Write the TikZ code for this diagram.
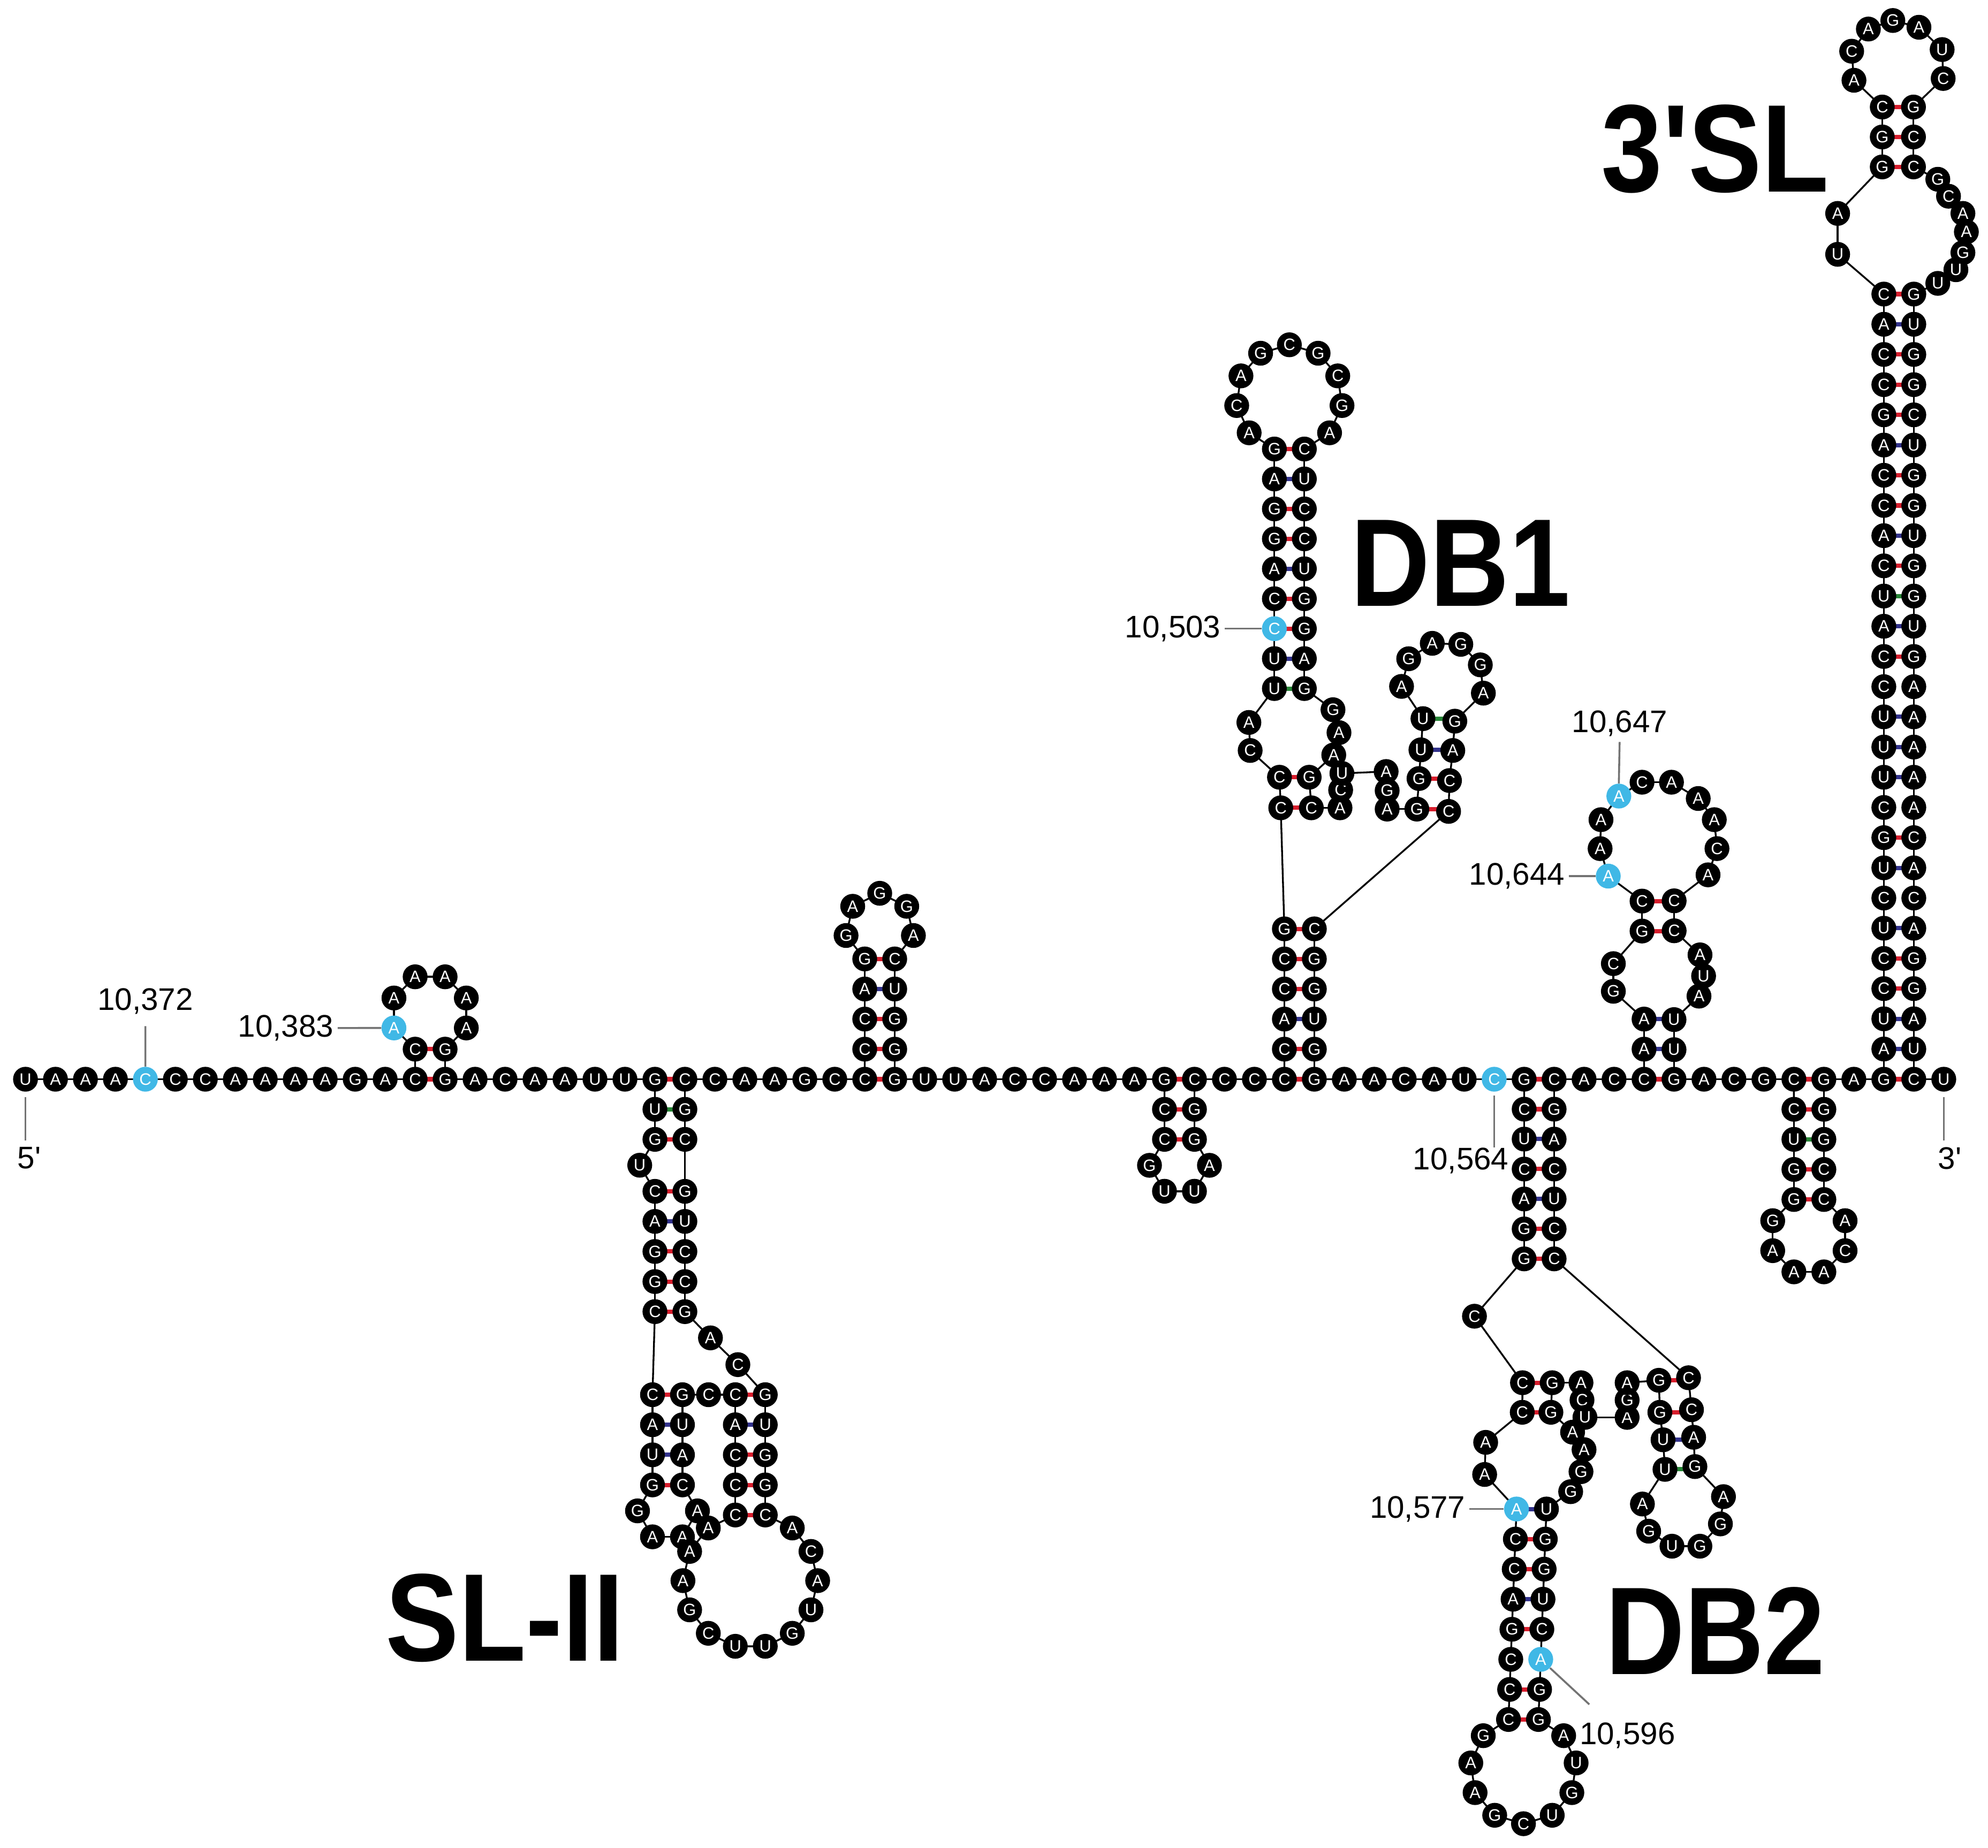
\documentclass[tikz,border=0pt]{standalone}
\usepackage{fontspec}
\setmainfont{Liberation Sans}
\newfontfamily\bigf{Liberation Sans}
\usetikzlibrary{backgrounds}
\definecolor{hl}{RGB}{64,184,230}
\definecolor{pr}{RGB}{215,30,45}
\definecolor{pbl}{RGB}{50,50,140}
\definecolor{pg}{RGB}{40,135,55}
\def\sp{23.52}
\def\nonec{n}
\newcount\nn
\newcommand\ntx[4][]{\global\advance\nn by 1\relax\node[nuc,#1] (n\the\nn) at ({#2},{#3}) {#4};}
\newcommand\sethl[1]{\ifnum\k=#1 \tikzset{cur/.style={fill=hl}}\else\tikzset{cur/.style={}}\fi}
\newcommand\ntrun[6][0]{\foreach \L [count=\k] in {#6}{\sethl{#1}\ntx[cur]{#2+(\k-1)*(#4)}{#3+(\k-1)*(#5)}{\L}\ifnum\k=#1 \xdef\lasthl{n\the\nn}\fi}}
\newcommand\ntpts[2][0]{\foreach \px/\py/\L [count=\k] in {#2}{\sethl{#1}\ntx[cur]{\px}{\py}{\L}\ifnum\k=#1 \xdef\lasthl{n\the\nn}\fi}}
\newcommand\hpup[5][0]{\pgfmathsetmacro\hR{\sp/(2*sin(180/#4))}\pgfmathsetmacro\hcx{#2+\sp/2}\pgfmathsetmacro\hcy{#3-\hR*cos(180/#4)}%
 \foreach \L [count=\k] in {#5}{\pgfmathsetmacro\ang{-90-180/#4-360/#4*\k}\sethl{#1}\ntx[cur]{\hcx+\hR*cos(\ang)}{\hcy-\hR*sin(\ang)}{\L}\ifnum\k=#1 \xdef\lasthl{n\the\nn}\fi}}
\newcommand\hpdn[5][0]{\pgfmathsetmacro\hR{\sp/(2*sin(180/#4))}\pgfmathsetmacro\hcx{#2+\sp/2}\pgfmathsetmacro\hcy{#3+\hR*cos(180/#4)}%
 \foreach \L [count=\k] in {#5}{\pgfmathsetmacro\ang{90+180/#4+360/#4*\k}\sethl{#1}\ntx[cur]{\hcx+\hR*cos(\ang)}{\hcy-\hR*sin(\ang)}{\L}\ifnum\k=#1 \xdef\lasthl{n\the\nn}\fi}}
\newcommand\pbars[5]{\foreach \c [count=\k from 0] in {#5}{\ifx\c\nonec\else\draw[pb,draw=\c] ({#1+\k*(#2)},{#3+\k*(#4)}) -- ++(\sp,0);\fi}}
\tikzset{
 nuc/.style={circle,fill=black,inner sep=0pt,minimum size=19.5pt,text=white,font=\fontsize{13}{13}\selectfont},
 cur/.style={},
 bb/.style={line width=1.4pt,black},
 pb/.style={line width=3.4pt},
 lab/.style={font=\bigf\fontsize{24.5}{25}\selectfont,inner sep=0pt},
 lead/.style={line width=1.5pt,draw=black!55},
 big/.style={font=\bigf\bfseries\fontsize{98}{98}\selectfont,inner sep=0pt}
}
\begin{document}
\begin{tikzpicture}[x=1pt,y=-1pt]
\begin{pgfonlayer}{background}
\fill[white] (0,0) rectangle (1560,1450);
\end{pgfonlayer}
\useasboundingbox (0,0) rectangle (1560,1450);
% ---- 5' main
\ntrun[5]{20}{847}{\sp}{0}{U,A,A,A,C,C,C,A,A,A,A,G,A,C}\xdef\hlA{\lasthl}
\ntx{325.76}{823.4}{C}
\hpup[1]{325.76}{823.4}{8}{A,A,A,A,A,A}\xdef\hlB{\lasthl}
\ntx{349.28}{823.4}{G}
\ntrun{349.28}{847}{\sp}{0}{G,A,C,A,A,U,U,G}
% ---- SL-II
\ntrun{513.92}{870.6}{0}{23.6}{U,G}
\ntx{502}{914.5}{U}
\ntrun{513.92}{935}{0}{23.6}{C,A,G,G,C}
\ntrun{512}{1094.6}{0}{23.6}{C,A,U,G}
\hpdn{512}{1165.4}{6}{G,A,A,A}
\ntrun{535.52}{1165.4}{0}{-23.6}{C,A,U,G}
\ntx{556}{1094.6}{C}
\ntrun{577}{1094.6}{0}{23.6}{C,A,C,C,C}
\hpdn{577}{1189}{14}{A,A,A,G,C,U,U,G,U,A,C,A}
\ntrun{600.52}{1189}{0}{-23.6}{C,G,G,U,G}
\ntx{579}{1071}{C}
\ntx{557.5}{1050}{A}
\ntrun{537.44}{1029.4}{0}{-23.6}{G,C,C,U,G}
\ntrun{537.44}{894.2}{0}{-23.6}{C,G}
\ntrun{537.44}{847}{\sp}{0}{C,C,A,A,G,C,C}
% ---- hairpin 2
\ntrun{678.56}{823.4}{0}{-23.6}{C,C,A,G}
\hpup{678.56}{752.6}{7}{G,A,G,G,A}
\ntrun{702.08}{752.6}{0}{23.6}{C,U,G,G}
\ntrun{702.08}{847}{\sp}{0}{G,U,U,A,C,C,A,A,A,G}
% ---- hairpin 3
\ntrun{913.76}{870.6}{0}{23.6}{C,C}
\hpdn{913.76}{894.2}{6}{G,U,U,A}
\ntrun{937.28}{894.2}{0}{-23.6}{G,G}
\ntrun{937.28}{847}{\sp}{0}{C,C,C,C}
% ---- DB1
\ntrun{1007.84}{823.4}{0}{-23.6}{C,A,C,C,G}
\ntpts{1005/634/C,1004/610/C,981/589/C,980/567/A}
\ntrun[3]{1000}{540.4}{0}{-23.5}{U,U,C,C,A,G,G,A,G}\xdef\hlC{\lasthl}
\hpup{1000}{352.4}{11}{A,C,A,G,C,G,C,G,A}
\ntrun{1023.52}{352.4}{0}{23.5}{C,U,C,C,U,G,G,A,G}
\ntpts{1046/557/G,1050.7/575/A,1046.6/592.5/A,1027.3/610/G,1029/634/C,1051.5/634/A,1052/620/C,1053/607/U,1087.7/605.5/A,1088.5/620.5/G,1088.5/635/A,1111.8/635/G,1113.5/611/G,1115/588.5/U,1116.6/564/U,1099.8/538.7/A,1105.4/517/G,1123.9/504.9/A,1146.3/505.7/G,1161.6/521.8/G,1164/544/A,1141.6/566/G,1140/589/A,1137.4/612.6/C,1136.7/636.8/C}
\ntrun{1031.36}{729}{0}{23.6}{C,G,G,U,G,G}
\ntrun[6]{1054.88}{847}{\sp}{0}{A,A,C,A,U,C,G}\xdef\hlD{\lasthl}
% ---- DB2
\ntrun{1196}{870.5}{0}{23.5}{C,U,C,A,G,G}
\ntpts{1157/1033/C,1194.7/1085.2/C,1194.5/1108.4/C,1165.8/1132/A,1165/1157.2/A}
\ntrun[1]{1190}{1184.3}{-0.9}{23.6}{A,C,C,A,G,C,C,C}\xdef\hlE{\lasthl}
\hpdn{1183.7}{1349.5}{11}{G,A,A,G,C,U,G,U,A}
\ntrun[3]{1207.2}{1349.5}{0.9}{-23.6}{G,G,A,C,U,G,G,U}\xdef\hlF{\lasthl}
\ntpts{1232.5/1170.7/G,1240.6/1155/G,1243/1137.7/A,1234/1124/A,1217/1108.4/G,1218/1085.2/G,1240.6/1085.2/A,1241.4/1098.8/C,1243.7/1112.4/U,1276.8/1112.4/A,1276.8/1098.8/G,1276.8/1085.2/A,1301.7/1083.3/G,1302.5/1108.4/G,1305/1130/U,1306.5/1153.2/U,1288.8/1180.4/A,1293.7/1201.7/G,1312/1213.5/U,1333.9/1213.5/G,1350/1196/G,1352.4/1174.6/A,1330/1151/G,1329/1128/A,1327.3/1106.4/C,1325/1081.3/C}
\ntrun{1219.52}{988}{0}{-23.5}{C,C,U,C,A,G}
\ntrun{1219.52}{847}{\sp}{0}{C,A,C,C}
% ---- right hairpin
\ntrun{1290.08}{823.4}{0}{-23.6}{A,A}
\ntpts{1266/778/G,1266/756.3/C,1288.5/730.7/G,1288.5/707.2/C}
\ntpts[1]{1262/687.6/A,1255.6/666/A,1256.3/643.3/A}\xdef\hlG{\lasthl}
\ntpts[1]{1270.3/624.8/A,1288.5/613.9/C,1311.6/613.9/A,1332.6/626.7/A,1345.2/643.3/A,1347.3/666/C,1340.3/686.6/A,1313.7/707/C,1313.7/730.5/C,1334/749.4/A,1336.8/766/U,1333.2/781.8/A}\xdef\hlH{\lasthl}
\ntrun{1313.6}{800.2}{0}{23.6}{U,U}
\ntrun{1313.6}{847}{\sp}{0}{G,A,C,G,C}
% ---- down hairpin
\ntrun{1407.68}{870.6}{0}{23.6}{C,U,G,G}
\hpdn{1407.68}{941.4}{8}{G,A,A,A,C,A}
\ntrun{1431.2}{941.4}{0}{-23.6}{C,C,G,G}
\ntrun{1431.2}{847}{\sp}{0}{G,A,G}
% ---- 3'SL
\ntrun{1478.24}{823.3}{0}{-23.7}{A,U,C,C,U,C,U,G,C,U,U,U,C,C,A,U,C,A,C,C,A,G,C,C,A,C}
\ntpts{1442/199.6/U,1442/167.5/A}
\ntrun{1477}{131}{0}{-23.5}{G,G,C}
\ntpts{1454.8/63/A,1453/40.2/C,1466.1/22.8/A,1485.3/16.1/G,1505.8/21.4/A,1524/38.9/U,1524.8/61.6/C}
\ntrun{1501.5}{84}{0}{23.5}{G,C,C}
\ntpts{1520.6/140.7/G,1529/154/C,1540.3/167.5/A,1543/182/A,1540.3/198.3/G,1534.8/211.7/U,1520.6/222.4/U}
\ntrun{1501.76}{230.8}{0}{23.7}{G,U,G,G,C,U,G,G,U,G,G,U,G,A,A,A,A,A,C,A,C,A,G,G,A,U}
\ntrun{1501.76}{847}{\sp}{0}{C,U}
% ---- backbone and pairs
\begin{pgfonlayer}{background}
\pgfmathtruncatemacro\Nm{\the\nn-1}
\foreach \i in {1,...,\Nm}{\pgfmathtruncatemacro\j{\i+1}\draw[bb] (n\i.center) -- (n\j.center);}
\pbars{325.76}{0}{847}{-23.6}{pr,pr}
\pbars{513.92}{0}{847}{23.6}{pr,pg,pr}
\pbars{513.92}{0}{935}{23.6}{pr,pbl,pr,pr,pr}
\pbars{512}{0}{1094.6}{23.6}{pr,pbl,pbl,pr}
\pbars{577}{0}{1094.6}{23.6}{pr,pbl,pr,pr,pr}
\pbars{678.56}{0}{847}{-23.6}{pr,pr,pr,pbl,pr}
\pbars{913.76}{0}{847}{23.6}{pr,pr,pr}
\pbars{1007.84}{0}{847}{-23.6}{pr,pr,pbl,pr,pr,pr}
\pbars{1004}{0}{610}{24}{pr,pr}
\pbars{1000}{0}{540.4}{-23.5}{pg,pbl,pr,pr,pbl,pr,pr,pbl,pr}
\pbars{1111.8}{0}{635}{0}{pr}
\pbars{1113.5}{0}{611}{0}{pr}
\pbars{1115}{0}{588.5}{0}{pbl}
\pbars{1116.6}{0}{564}{0}{pg}
\pbars{1196}{0}{847}{23.5}{pr,pr,pbl,pr,pbl,pr,pr}
\pbars{1194.7}{0}{1085.2}{23.2}{pr,pr}
\pbars{1190}{-0.9}{1184.3}{23.6}{pbl,pr,pr,pbl,pr,n,pr,pr}
\pbars{1301.7}{0}{1083.3}{0}{pr}
\pbars{1302.5}{0}{1108.4}{0}{pr}
\pbars{1305}{0}{1130}{0}{pbl}
\pbars{1306.5}{0}{1153}{0}{pg}
\pbars{1290.08}{0}{847}{-23.6}{pr,pbl,pbl}
\pbars{1288.5}{0}{707.2}{23.5}{pr,pr}
\pbars{1407.68}{0}{847}{23.6}{pr,pr,pg,pr,pr}
\pbars{1478.24}{0}{847}{-23.7}{pr,pbl,pbl,pr,pr,pbl,n,pbl,pr,n,pbl,pbl,pbl,n,pr,pbl,pg,pr,pbl,pr,pr,pbl,pr,pr,pr,pbl,pr}
\pbars{1477}{0}{131}{-23.5}{pr,pr,pr}
\end{pgfonlayer}
% ---- labels
\node[lab] (l372) at (114.08,786) {10,372};
\draw[lead,shorten <=9pt] (l372.south) -- (\hlA.north);
\node[lab,anchor=east] (l383) at (262,806.8) {10,383};
\draw[lead,shorten <=3pt] (l383.east) -- (\hlB.west);
\node[lab,anchor=east] (l503) at (958,493.4) {10,503};
\draw[lead,shorten <=3pt] (l503.east) -- (\hlC.west);
\node[lab,anchor=east] (l564) at (1184,911) {10,564};
\draw[lead,shorten <=3pt] (\hlD.south) -- (\hlD.south |- l564.north);
\node[lab,anchor=east] (l577) at (1150,1184.3) {10,577};
\draw[lead,shorten <=3pt] (l577.east) -- (\hlE.west);
\node[lab] (l596) at (1277,1362) {10,596};
\draw[lead,shorten >=3pt] (\hlF) -- ([shift={(10,-12)}]l596.north west);
\node[lab] (l647) at (1271,568) {10,647};
\draw[lead,shorten <=4pt] (l647.south) -- (\hlH.north);
\node[lab,anchor=east] (l644) at (1228,687.6) {10,644};
\draw[lead,shorten <=3pt] (l644.east) -- (\hlG.west);
\node[lab] (l5) at (23,909) {5'};
\draw[lead,shorten <=4pt,shorten >=5pt] (n1.south) -- (n1.south |- l5.north);
\node[lab] (l3) at (1530,909) {3'};
\draw[lead,shorten <=4pt,shorten >=5pt] (n\the\nn.south) -- (n\the\nn.south |- l3.north);
% ---- big labels
\node[big] (tsl) at (396,1270) {\scalebox{0.88}[1]{SL-II}};
\node[big] (tdb1) at (1146,442) {\scalebox{0.88}[1]{DB1}};
\node[big] (tdb2) at (1346,1280) {\scalebox{0.88}[1]{DB2}};
\node[big] (t3sl) at (1346,117) {\scalebox{0.88}[1]{3'SL}};
\end{tikzpicture}
\end{document}
